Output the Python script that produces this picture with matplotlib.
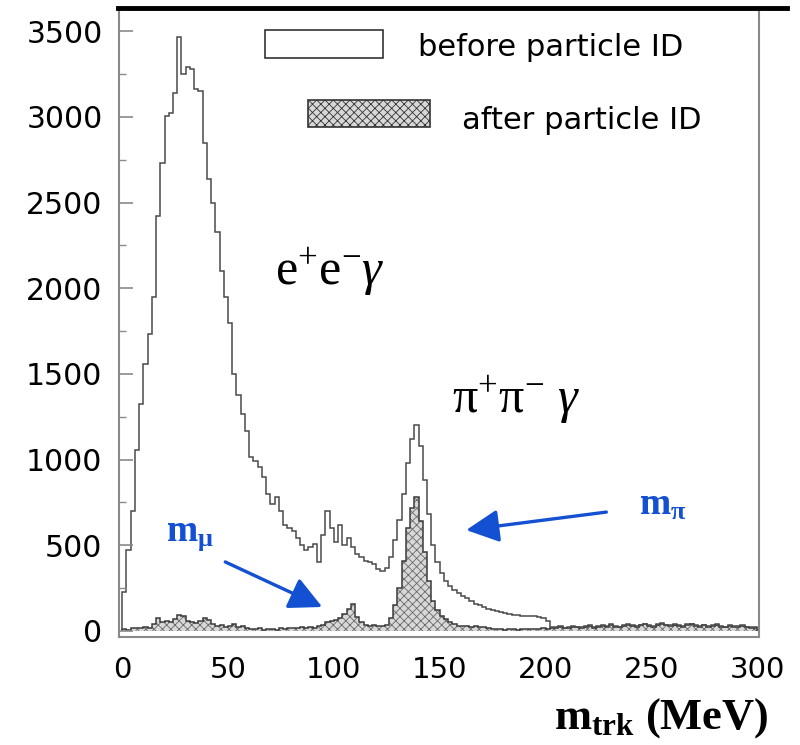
import numpy as np
import matplotlib
matplotlib.use("Agg")
from matplotlib import pyplot as plt
from matplotlib.patches import Rectangle
from matplotlib.lines import Line2D

plt.rcParams['mathtext.fontset'] = 'custom'
plt.rcParams['mathtext.rm'] = 'Liberation Serif'
plt.rcParams['mathtext.it'] = 'Liberation Serif:italic'
plt.rcParams['mathtext.bf'] = 'Liberation Serif:bold'
plt.rcParams['hatch.linewidth'] = 0.6
plt.rcParams['hatch.color'] = '#6a6a6a'

# 2 MeV bins, 0..300 MeV
binEdges = np.arange(0, 302, 2)

# counts before particle ID
beforeCounts = [
    230, 470, 700, 1055, 1325, 1560, 1735, 1950, 2420, 2730,
    3007, 3025, 3140, 3465, 3250, 3290, 3280, 3165, 3150, 2850,
    2640, 2500, 2330, 2100, 1950, 1800, 1500, 1380, 1266, 1170,
    1015, 990, 960, 897, 800, 740, 780, 700, 620, 600,
    585, 545, 500, 470, 490, 505, 400, 560, 700, 600,
    520, 620, 500, 545, 490, 450, 430, 410, 400, 390,
    360, 350, 370, 430, 530, 645, 800, 980, 1120, 1200,
    1080, 880, 680, 500, 400, 340, 293, 265, 240, 220,
    205, 190, 175, 160, 150, 138, 130, 125, 118, 112,
    105, 98, 94, 92, 90, 88, 88, 85, 80, 76,
    60, 25, 22, 28, 20, 24, 30, 26, 22, 28,
    32, 25, 30, 35, 28, 38, 30, 26, 35, 40,
    32, 28, 36, 42, 34, 30, 38, 45, 36, 32,
    40, 35, 30, 38, 42, 34, 30, 36, 28, 32,
    38, 30, 26, 34, 30, 28, 32, 26, 24, 22,
]

# counts after particle ID
afterCounts = [
    10, 5, 15, 20, 18, 25, 20, 40, 76, 50,
    60, 55, 70, 95, 85, 60, 50, 45, 60, 76,
    65, 40, 30, 35, 25, 30, 40, 25, 30, 20,
    12, 10, 15, 8, 12, 10, 8, 15, 12, 18,
    20, 15, 22, 18, 25, 20, 30, 35, 50, 60,
    65, 75, 100, 130, 155, 80, 50, 35, 30, 32,
    28, 30, 35, 76, 150, 250, 410, 600, 720, 780,
    640, 460, 290, 176, 120, 90, 70, 50, 38, 30,
    28, 30, 26, 28, 24, 22, 15, 12, 10, 12,
    8, 10, 12, 8, 10, 12, 10, 14, 12, 15,
    14, 16, 18, 24, 16, 20, 26, 22, 18, 24,
    28, 20, 26, 30, 24, 34, 26, 22, 30, 36,
    28, 24, 32, 38, 30, 26, 34, 40, 32, 28,
    36, 30, 26, 34, 38, 30, 26, 32, 24, 28,
    34, 26, 22, 30, 26, 24, 28, 22, 20, 18,
]

assert len(beforeCounts) == len(binEdges) - 1
assert len(afterCounts) == len(binEdges) - 1

yTicks = [0, 500, 1000, 1500, 2000, 2500, 3000, 3500]
xTicks = [0, 50, 100, 150, 200, 250, 300]

blue = '#1450d2'
frameGray = '#8a8a8a'

fig = plt.figure(figsize=(8, 7.45), dpi=100)
ax = fig.add_axes([0.149, 0.145, 0.80, 0.844])

ax.stairs(afterCounts, binEdges, fill=True, facecolor='#d8d8d8',
          hatch='xxxx', edgecolor='#6a6a6a', linewidth=0)
ax.stairs(afterCounts, binEdges, color='#3a3a3a', linewidth=1.1)
ax.stairs(beforeCounts, binEdges, color='#4a4a4a', linewidth=1.1)

ax.set_xlim(-1.4, 300.9)
ax.set_ylim(-35, 3635)

ax.set_yticks(yTicks)
ax.set_yticks(np.arange(250, 3600, 500), minor=True)
ax.set_xticks(xTicks)
ax.tick_params(axis='y', which='major', direction='in', length=10, width=1.2,
               color=frameGray, labelsize=21.5, pad=12)
ax.tick_params(axis='y', which='minor', direction='in', length=5, width=1.0,
               color=frameGray)
ax.tick_params(axis='x', length=0, labelsize=21, pad=14)

for side in ['left', 'bottom', 'right']:
    ax.spines[side].set_color(frameGray)
    ax.spines[side].set_linewidth(1.5)
ax.spines['top'].set_visible(False)

# thick black line along the top
fig.add_artist(Line2D([0.1475, 0.984], [0.989, 0.989], color='black',
                      linewidth=3.5, transform=fig.transFigure))

# legend drawn by hand
ax.add_patch(Rectangle((0.228, 0.9205), 0.184, 0.0455, transform=ax.transAxes,
                       facecolor='white', edgecolor='#333333', linewidth=1.2))
ax.text(0.467, 0.938, 'before particle ID', transform=ax.transAxes,
        fontsize=22, va='center', ha='left')
ax.add_patch(Rectangle((0.295, 0.811), 0.19, 0.043, transform=ax.transAxes,
                       facecolor='#d8d8d8', hatch='xxxx', edgecolor='#333333',
                       linewidth=1.2))
ax.text(0.536, 0.822, 'after particle ID', transform=ax.transAxes,
        fontsize=22, va='center', ha='left')

# physics labels
ax.text(98, 2095, r'$\mathrm{e^{+}e^{-}}\gamma$', fontsize=36,
        ha='center', va='center')
ax.text(186, 1348, r'$\mathrm{\pi^{+}\pi^{-}}\ \gamma$', fontsize=36,
        ha='center', va='center')

ax.text(32, 560, r'$\mathbf{m}_{\mathbf{\mu}}$', fontsize=27, color=blue,
        ha='center', va='center')
ax.text(255.6, 735, r'$\mathbf{m}_{\mathbf{\pi}}$', fontsize=27, color=blue,
        ha='center', va='center')

arrowStyle = '-|>,head_length=0.8,head_width=0.4'
ax.annotate('', xy=(94.5, 140), xytext=(48.7, 403),
            arrowprops=dict(arrowstyle=arrowStyle, color=blue, lw=2.4,
                            mutation_scale=25, shrinkA=0, shrinkB=0))
ax.annotate('', xy=(162.5, 589), xytext=(228.7, 694),
            arrowprops=dict(arrowstyle=arrowStyle, color=blue, lw=2.4,
                            mutation_scale=25, shrinkA=0, shrinkB=0))

fig.text(0.827, 0.036, r'$\mathbf{m}_{\mathbf{trk}}$ (MeV)', fontsize=32,
         fontweight='bold', family='Liberation Serif', ha='center', va='center')

fig.savefig('out.png', dpi=100)
